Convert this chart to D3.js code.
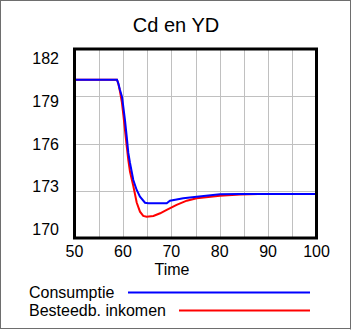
<!DOCTYPE html>
<html>
<head>
<meta charset="utf-8">
<script src="https://cdn.jsdelivr.net/npm/d3@7"></script>
<style>
  html, body { margin: 0; padding: 0; background: #fff; }
  svg { display: block; font-family: "Liberation Sans", Arial, sans-serif; }
</style>
</head>
<body>
<svg id="chart" width="352" height="330"></svg>
<script>
// Simulation time (years) and the two model outputs
const timeC = [50, 58.78, 59.05, 59.4, 59.81, 60.08, 60.43, 60.79, 61.12, 61.47, 62.15, 62.85, 63.53, 64.57, 65.25, 67, 69.05, 69.73, 72.48, 75.25, 80.06, 84.2, 90, 100];
const consumptie = [180.05, 180.05, 179.82, 179.40, 178.97, 178.34, 177.49, 176.43, 175.40, 174.76, 173.68, 173.05, 172.62, 172.24, 172.20, 172.20, 172.20, 172.37, 172.52, 172.62, 172.77, 172.79, 172.79, 172.79];

const timeY = [50, 58.78, 59.05, 59.4, 59.8, 60.1, 60.45, 60.8, 61.12, 61.47, 62.15, 62.85, 63.53, 64.2, 64.9, 66.3, 67.7, 69.05, 71.1, 73.2, 75.25, 80.06, 84.2, 88, 100];
const besteedbaar = [180.05, 180.05, 179.8, 179.3, 178.6, 177.8, 176.8, 175.8, 174.95, 174.2, 173.3, 172.25, 171.67, 171.4, 171.35, 171.4, 171.57, 171.78, 172.1, 172.37, 172.52, 172.68, 172.76, 172.79, 172.79];

const xTicks = [50, 60, 70, 80, 90, 100];
const xGrid = [55, 60, 65, 70, 75, 80, 85, 90, 95];
const yTicks = [182, 179, 176, 173, 170];

const seriesNames = ["Consumptie", "Besteedb. inkomen"];
const seriesColors = ["#0000ff", "#ff0000"];

const svg = d3.select("#chart");

// outer frame
svg.append("rect")
  .attr("x", 0.5).attr("y", 0.5).attr("width", 350).attr("height", 328)
  .attr("fill", "#fff").attr("stroke", "#6e6e6e").attr("stroke-width", 1);
svg.append("path")
  .attr("d", "M350.5,0.5V329.5M0.5,328.5H351")
  .attr("stroke", "#6e6e6e").attr("stroke-width", 1).attr("fill", "none");

const x = d3.scaleLinear().domain([50, 100]).range([74.5, 316.5]);
const y = d3.scaleLinear().domain([170, 182]).range([238, 49]);
// tick labels are spread evenly over a slightly narrower band
const yLabel = d3.scaleLinear().domain([182, 170]).range([58.7, 229.6]);

// title
svg.append("text")
  .attr("x", 176).attr("y", 25).attr("dy", "0.35em")
  .attr("text-anchor", "middle")
  .attr("font-size", 20)
  .text("Cd en YD");

// grid
const grid = svg.append("g").attr("stroke", "#c0c0c0").attr("stroke-width", 1);
grid.selectAll("line.v").data(xGrid).join("line")
  .attr("x1", d => Math.round(x(d)) + 0.5).attr("x2", d => Math.round(x(d)) + 0.5)
  .attr("y1", y(182)).attr("y2", y(170));
grid.selectAll("line.h").data(yTicks.filter(d => d !== 182 && d !== 170)).join("line")
  .attr("x1", x(50)).attr("x2", x(100))
  .attr("y1", d => Math.round(y(d)) + 0.5).attr("y2", d => Math.round(y(d)) + 0.5);

// series
const line = (tArr, vArr) => d3.line()
  .x((d, i) => x(tArr[i]))
  .y(d => y(d))(vArr);

svg.append("path")
  .attr("d", line(timeY, besteedbaar))
  .attr("fill", "none").attr("stroke", seriesColors[1]).attr("stroke-width", 2);
svg.append("path")
  .attr("d", line(timeC, consumptie))
  .attr("fill", "none").attr("stroke", seriesColors[0]).attr("stroke-width", 2);

// plot frame
svg.append("rect")
  .attr("x", x(50)).attr("y", y(182))
  .attr("width", x(100) - x(50)).attr("height", y(170) - y(182))
  .attr("fill", "none").attr("stroke", "#000").attr("stroke-width", 3);

// y labels
svg.append("g").selectAll("text").data(yTicks).join("text")
  .attr("x", 59).attr("y", d => yLabel(d)).attr("dy", "0.35em")
  .attr("text-anchor", "end").attr("font-size", 16)
  .text(d => d);

// x labels
svg.append("g").selectAll("text").data(xTicks).join("text")
  .attr("x", d => x(d)).attr("y", 251).attr("dy", "0.35em")
  .attr("text-anchor", "middle").attr("font-size", 16)
  .text(d => d);

svg.append("text")
  .attr("x", 172).attr("y", 269).attr("dy", "0.35em")
  .attr("text-anchor", "middle").attr("font-size", 16)
  .text("Time");

// legend
const legendY = [292.5, 310.5];
const legendStart = [128, 179];
seriesNames.forEach((name, i) => {
  svg.append("text")
    .attr("x", 29).attr("y", legendY[i]).attr("dy", "0.35em")
    .attr("font-size", 16)
    .text(name);
  svg.append("line")
    .attr("x1", legendStart[i]).attr("x2", 310)
    .attr("y1", legendY[i]).attr("y2", legendY[i])
    .attr("stroke", seriesColors[i]).attr("stroke-width", 2);
});
</script>
</body>
</html>
